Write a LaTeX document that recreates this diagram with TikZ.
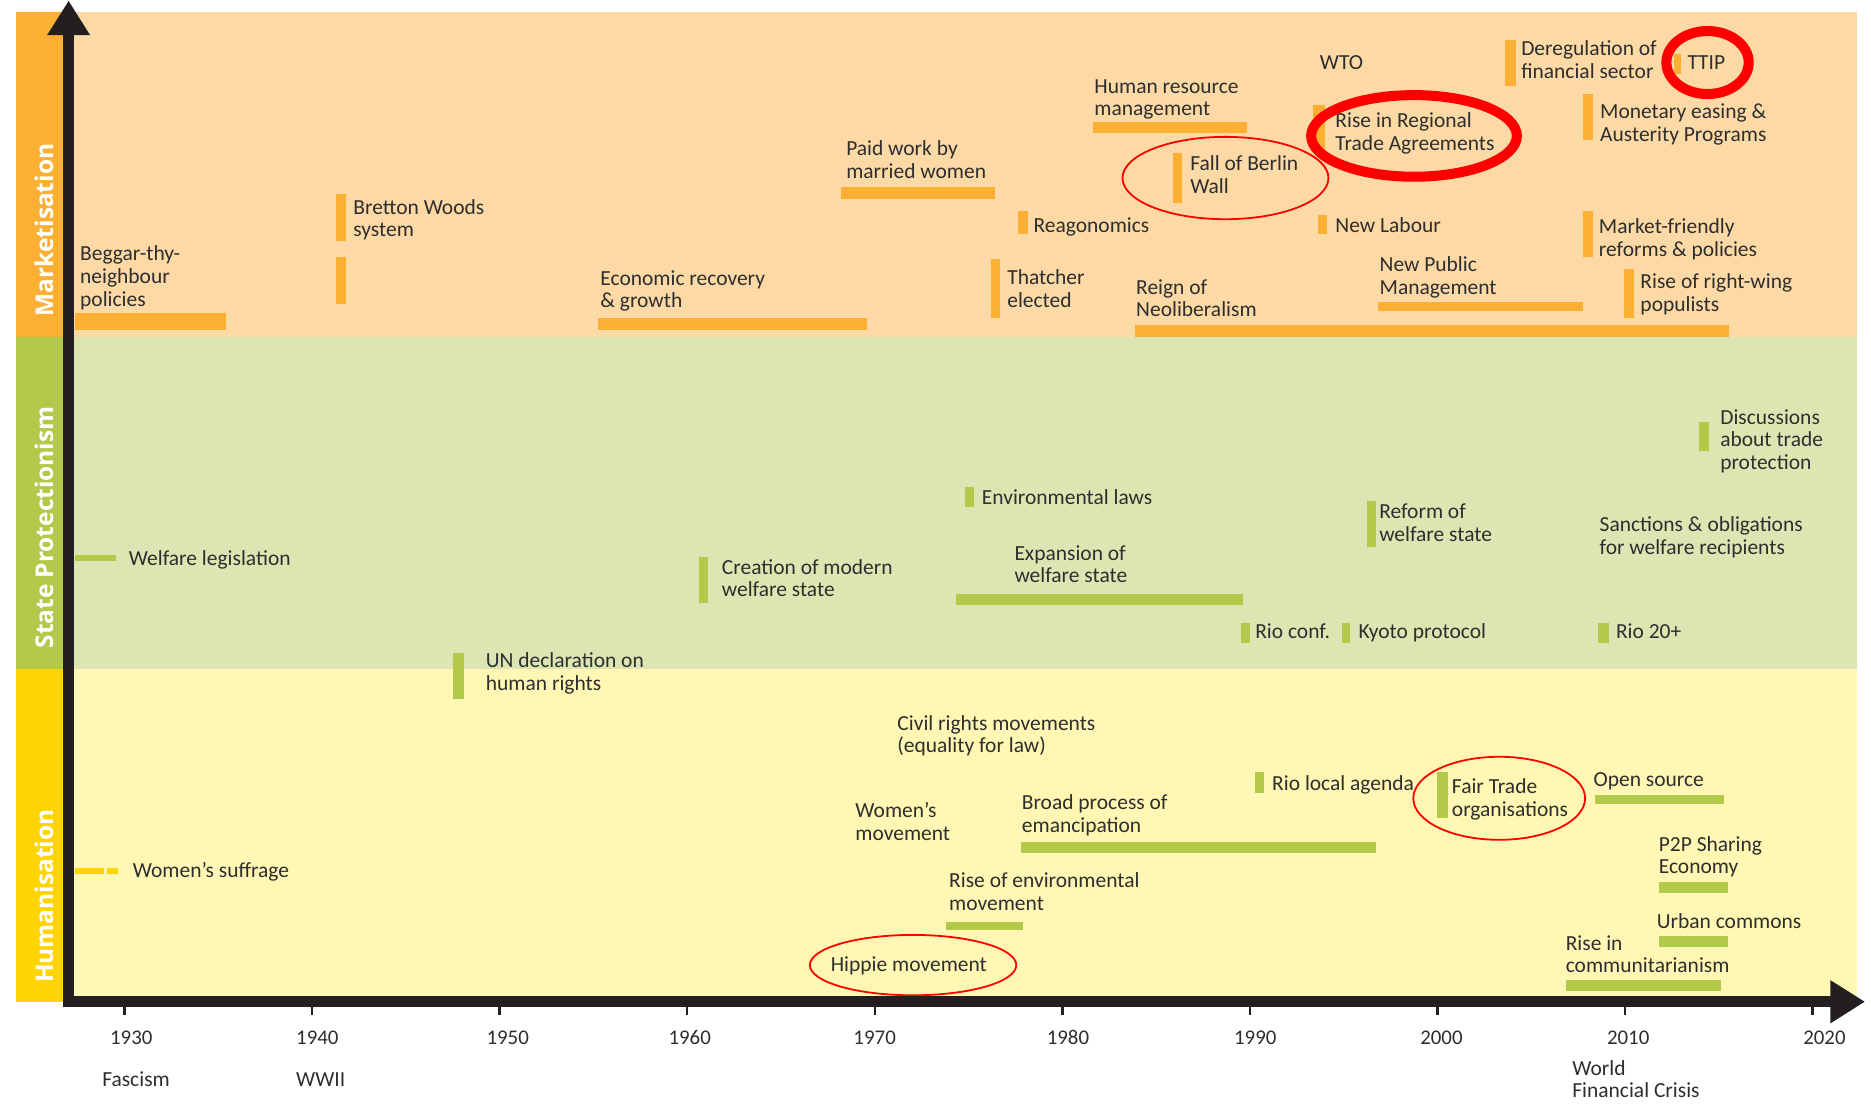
\documentclass[tikz,border=0pt]{standalone}
\usepackage{fontspec}
\setmainfont{Carlito}
\newfontfamily\bandfont{Open Sans}
\usetikzlibrary{arrows.meta}

\definecolor{mkt}{HTML}{FBB034}
\definecolor{mktbg}{HTML}{FDD9A6}
\definecolor{sp}{HTML}{B3C94A}
\definecolor{spbg}{HTML}{DDE6B3}
\definecolor{hum}{HTML}{FFD400}
\definecolor{humbg}{HTML}{FFF7B3}
\definecolor{axiscol}{HTML}{231F20}
\definecolor{txt}{HTML}{2E2E2E}
\definecolor{ring}{HTML}{FF0000}

\begin{document}
\begin{tikzpicture}[x=1pt,y=-1pt,
  lbl/.style={font=\fontsize{18}{19}\selectfont, text=txt, align=left, inner sep=0pt, anchor=base west},
  % multi-line labels are placed by their first baseline
  l2/.style={yshift=-19pt},
  l3/.style={yshift=-38pt},
  yr/.style={font=\fontsize{17.5}{19}\selectfont, text=txt, inner sep=0pt, anchor=base},
  band/.style={font=\bandfont\bfseries\fontsize{20.5}{24}\selectfont, text=white, rotate=90, inner sep=0pt},
  obar/.style={fill=mkt},
  gbar/.style={fill=sp},
  thinring/.style={draw=ring, line width=1.5pt},
  thickring/.style={draw=ring, line width=8.4pt},
  axisline/.style={draw=axiscol, line width=9.5pt, -{Triangle[length=29pt,width=34pt]}}]

\useasboundingbox (0,0) rectangle (1568,930);

% ---------- bands ----------
\fill[mkt]   (13,10)  rectangle (53,282);
\fill[sp]    (13,282) rectangle (53,561);
\fill[hum]   (13,561) rectangle (53,840);
\fill[mktbg] (53,10)  rectangle (1556,282);
\fill[spbg]  (53,282) rectangle (1556,561);
\fill[humbg] (53,561) rectangle (1556,836);

\node[band] (bandM) at (36.8,192.7) {Marketisation};
\node[band] (bandS) at (36.8,442)   {State Protectionism};
\node[band] (bandH) at (36.8,751)   {Humanisation};

% ---------- marketisation ----------
\fill[obar] (62.6,262.7) rectangle (189.8,276.6);
\node[lbl,l3] (beggar) at (67,218.7) {Beggar-thy-\\neighbour\\policies};

\fill[obar] (281.5,162.9) rectangle (289.7,201.7);
\fill[obar] (281.5,215.7) rectangle (289.7,254.8);
\node[lbl,l2] (bretton) at (296,179.6) {Bretton Woods\\system};

\fill[obar] (501.5,266.8) rectangle (726.2,276.6);
\node[lbl,l2] (recovery) at (503,239) {Economic recovery\\\& growth};

\fill[obar] (704.7,157) rectangle (834,166.8);
\node[lbl,l2] (paidwork) at (709,130.7) {Paid work by\\married women};

\fill[obar] (916,102) rectangle (1045.4,111.7);
\node[lbl,l2] (hrm) at (917,78.2) {Human resource\\management};

\fill[obar] (853.5,176.6) rectangle (861.4,196.1);
\node[lbl] (reagan) at (866,195) {Reagonomics};

\fill[obar] (830.2,217.3) rectangle (838.1,266.8);
\node[lbl,l2] (thatcher) at (844,238.3) {Thatcher\\elected};

\fill[obar] (951.5,272.4) rectangle (1448.9,282.2);
\node[lbl,l2] (neolib) at (952,246.6) {Reign of\\Neoliberalism};

\fill[obar] (982.8,127.9) rectangle (990.6,170.4);
\node[lbl,l2] (berlin) at (997.3,143.3) {Fall of Berlin\\Wall};

\node[lbl] (wto) at (1106,58) {WTO};

\fill[obar] (1100.7,88) rectangle (1110.5,128);
\node[lbl,l2] (rta) at (1119,107) {Rise in Regional\\Trade Agreements};

\fill[obar] (1104.3,180.2) rectangle (1111.8,196.1);
\node[lbl] (labour) at (1119,195) {New Labour};

\fill[obar] (1155,252.8) rectangle (1326.7,260.4);
\node[lbl,l2] (npm) at (1156,227.9) {New Public\\Management};

\fill[obar] (1261,33.5) rectangle (1270.3,72);
\node[lbl,l2] (dereg) at (1274.7,46.9) {Deregulation of\\financial sector};

\fill[obar] (1403,45.3) rectangle (1408.8,62);
\node[lbl] (ttip) at (1414,58) {TTIP};

\fill[obar] (1327,78.8) rectangle (1334.6,117.3);
\node[lbl,l2] (easing) at (1340.8,99.4) {Monetary easing \&\\Austerity Programs};

\fill[obar] (1327,176.6) rectangle (1334.6,215.7);
\node[lbl,l2] (mfriendly) at (1339.8,195.8) {Market-friendly\\reforms \& policies};

\fill[obar] (1361,225.7) rectangle (1369.5,266.8);
\node[lbl,l2] (populists) at (1374.6,241.9) {Rise of right-wing\\populists};

% ---------- state protectionism ----------
\fill[gbar] (62.6,465.1) rectangle (97.5,470.2);
\node[lbl] (welfleg) at (107.8,473.8) {Welfare legislation};

\fill[gbar] (379.4,547) rectangle (389.2,586);
\node[lbl,l2] (undecl) at (407,559.5) {UN declaration on\\human rights};

\fill[gbar] (585.6,466.5) rectangle (593.5,505.6);
\node[lbl,l2] (modwelf) at (604.8,481.3) {Creation of modern\\welfare state};

\fill[gbar] (808.3,407.9) rectangle (815.9,425.2);
\node[lbl] (envlaws) at (822.7,422.6) {Environmental laws};

\fill[gbar] (801,497.8) rectangle (1041.5,507);
\node[lbl,l2] (expwelf) at (850,469.3) {Expansion of\\welfare state};

\fill[gbar] (1039.8,521.8) rectangle (1047.6,538.6);
\node[lbl] (rioconf) at (1051.8,535.2) {Rio conf.};

\fill[gbar] (1124.4,521.8) rectangle (1131.4,538.6);
\node[lbl] (kyoto) at (1138.4,535.2) {Kyoto protocol};

\fill[gbar] (1145.4,419.6) rectangle (1153.2,458.7);
\node[lbl,l2] (refwelf) at (1155.7,434.7) {Reform of\\welfare state};

\fill[gbar] (1424.2,353.4) rectangle (1431.8,377.7);
\node[lbl,l3] (tradeprot) at (1441.5,355.6) {Discussions\\about trade\\protection};

\node[lbl,l2] (sanctions) at (1340.4,445.8) {Sanctions \& obligations\\for welfare recipients};

\fill[gbar] (1339.5,521.8) rectangle (1348.3,538.6);
\node[lbl] (rio20) at (1354.1,535.2) {Rio 20+};

% ---------- humanisation ----------
\fill[hum] (62.6,727.2) rectangle (87.2,732.8);
\fill[hum] (90,727.2) rectangle (99.2,732.8);
\node[lbl] (suffrage) at (111.2,735) {Women's suffrage};

\node[lbl,l2] (civil) at (751.9,612) {Civil rights movements\\(equality for law)};

\node[lbl,l2] (womenmov) at (716.7,685.2) {Women's\\movement};

\fill[gbar] (855.8,705.4) rectangle (1153,715.2);
\node[lbl,l2] (emancip) at (856.2,678.8) {Broad process of\\emancipation};

\fill[gbar] (792.9,772.4) rectangle (857.6,779.4);
\node[lbl,l2] (envmov) at (795.3,743.9) {Rise of environmental\\movement};

\node[lbl] (hippie) at (696.1,813.8) {Hippie movement};

\fill[gbar] (1052,646.7) rectangle (1059,664.3);
\node[lbl] (riolocal) at (1066,662.1) {Rio local agenda};

\fill[gbar] (1204.6,646.7) rectangle (1213.9,685.8);
\node[lbl,l2] (fairtrade) at (1216.6,664.9) {Fair Trade\\organisations};

\fill[gbar] (1337,666.3) rectangle (1444.8,673.8);
\node[lbl] (opensrc) at (1335.3,658.7) {Open source};

\fill[gbar] (1390,738.9) rectangle (1448.2,748.1);
\node[lbl,l2] (p2p) at (1390,713.2) {P2P Sharing\\Economy};

\fill[gbar] (1390,784.5) rectangle (1448.2,793.4);
\node[lbl] (urban) at (1388.3,778) {Urban commons};

\fill[gbar] (1312,821.3) rectangle (1442.3,830.5);
\node[lbl,l2] (communit) at (1312,796.2) {Rise in\\communitarianism};

% ---------- highlight rings ----------
\draw[thinring]  (1027,149.2) ellipse [x radius=86.3, y radius=34.5];
\draw[thickring] (1185,113.9) ellipse [x radius=86.2, y radius=34.2];
\draw[thickring] (1431,52.4)  ellipse [x radius=34.5, y radius=26.4];
\draw[thinring]  (765.2,808.8) ellipse [x radius=86.5, y radius=25.3];
\draw[thinring]  (1256.4,669) ellipse [x radius=72, y radius=34.8];

% ---------- axes ----------
\coordinate (origin) at (57.5,839.5);
\coordinate (ybottom) at (57.5,844.25);
\coordinate (ytip) at (57.5,0.5);
\coordinate (xleft) at (52.75,839.5);
\coordinate (xtip) at (1563,839.5);
\draw[axisline] (ybottom) -- (ytip);
\draw[axisline] (xleft) -- (xtip);

\foreach \yy in {1930,1940,...,2020}{
  \pgfmathsetmacro{\tx}{104.3+15.72*(\yy-1930)}
  \draw[axiscol, line width=2pt] (\tx,843) -- (\tx,851);
}

\foreach \yy/\lx in {1930/110,1940/266,1950/425.5,1960/578,1970/733,1980/895,1990/1052,2000/1208,2010/1364.5,2020/1529}{
  \node[yr] (y\yy) at (\lx,875.6) {\yy};
}

\node[lbl] (fascism) at (85.5,910.5) {Fascism};
\node[lbl] (wwii) at (248,910.5) {WWII};
\node[lbl,l2] (crisis) at (1317.5,901) {World\\Financial Crisis};

\end{tikzpicture}
\end{document}
